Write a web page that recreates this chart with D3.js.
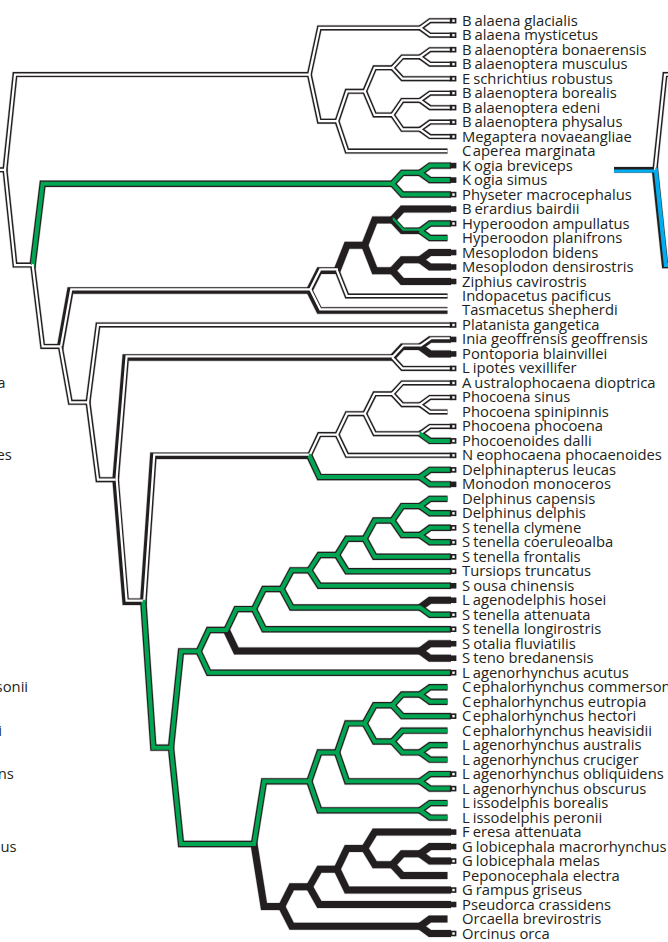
<!DOCTYPE html>
<html><head><meta charset="utf-8">
<script src="https://cdn.jsdelivr.net/npm/d3@7"></script>
<style>html,body{margin:0;padding:0;background:#fff;overflow:hidden}</style>
</head><body>
<svg id="chart" width="668" height="942"></svg>
<script>
// ---------- DATA ----------
const species = [
  "Balaena glacialis","Balaena mysticetus","Balaenoptera bonaerensis","Balaenoptera musculus",
  "Eschrichtius robustus","Balaenoptera borealis","Balaenoptera edeni","Balaenoptera physalus",
  "Megaptera novaeangliae","Caperea marginata","Kogia breviceps","Kogia simus",
  "Physeter macrocephalus","Berardius bairdii","Hyperoodon ampullatus","Hyperoodon planifrons",
  "Mesoplodon bidens","Mesoplodon densirostris","Ziphius cavirostris","Indopacetus pacificus",
  "Tasmacetus shepherdi","Platanista gangetica","Inia geoffrensis geoffrensis","Pontoporia blainvillei",
  "Lipotes vexillifer","Australophocaena dioptrica","Phocoena sinus","Phocoena spinipinnis",
  "Phocoena phocoena","Phocoenoides dalli","Neophocaena phocaenoides","Delphinapterus leucas",
  "Monodon monoceros","Delphinus capensis","Delphinus delphis","Stenella clymene",
  "Stenella coeruleoalba","Stenella frontalis","Tursiops truncatus","Sousa chinensis",
  "Lagenodelphis hosei","Stenella attenuata","Stenella longirostris","Sotalia fluviatilis",
  "Steno bredanensis","Lagenorhynchus acutus","Cephalorhynchus commersonii","Cephalorhynchus eutropia",
  "Cephalorhynchus hectori","Cephalorhynchus heavisidii","Lagenorhynchus australis","Lagenorhynchus cruciger",
  "Lagenorhynchus obliquidens","Lagenorhynchus obscurus","Lissodelphis borealis","Lissodelphis peronii",
  "Feresa attenuata","Globicephala macrorhynchus","Globicephala melas","Peponocephala electra",
  "Grampus griseus","Pseudorca crassidens","Orcaella brevirostris","Orcinus orca"
];
// tip marker: o = open square, f = filled square, '' = none
const markers = [
  "o","o","o","o","o","o","o","o","o","",
  "f","f","o","f","o","","f","f","f","","",
  "o","f","f","o","o","o","","o","o","o","o","f",
  "","o","o","o","o","o","f","f","o","o","f","f","o",
  "","","o","","","","o","o","","",
  "f","f","o","","o","f","","o"
];
// clades (leaf index : character state of the branch leading to it)
// w = white, g = green, b = black, wb / gb = polymorphic
const cladeMysticeti   = "((0:w,1:w):w,((((2:w,3:w):w,4:w):w,((5:w,6:w):w,(7:w,8:w):w):w):w,9:w):w):w";
const cladePhyseteroid = "((10:g,11:g):g,12:g):g";
const cladeZiphiidae   = "((((13:b,(14:g,15:g):gb):b,((16:b,17:b):b,18:b):b):b,19:w):wb,20:wb):wb";
const cladeIniidae     = "((22:wb,23:b):wb,24:w):wb";
const cladePhocMonod   = "((((25:w,(26:w,27:w):w):w,(28:w,29:g):w):w,30:w):w,(31:g,32:g):g):wb";
const cladeDelphininae = "(((((((((33:g,34:g):g,(35:g,36:g):g):g,37:g):g,38:g):g,39:g):g,(40:b,41:g):g):g,42:g):g,(43:b,44:b):b):g,45:g):g";
const cladeLissodelph  = "(((((46:g,47:g):g,48:g):g,(49:g,(50:g,51:g):g):g):g,(52:g,53:g):g):g,(54:g,55:g):g):g";
const cladeGlobiceph   = "((((56:b,((57:b,58:b):b,59:b):b):b,60:b):b,61:b):b,(62:b,63:b):b):b";
const rootState = "w";
// adjacent panel (right) shares the topology; states of its root branches
const rightPanelRootStates = ["kb","w","u"]; // stem, Mysticeti, Odontoceti

const newick =
  "(" + cladeMysticeti + ",(" + cladePhyseteroid + ",(" + cladeZiphiidae + ",(21:w,(" +
  cladeIniidae + ",(" + cladePhocMonod + ",(" + cladeDelphininae + ",(" + cladeLissodelph + "," +
  cladeGlobiceph + "):g):g):wb):w):w):w):w):" + rootState;

// ---------- PARSE ----------
function parseNewick(s){
  let i = 0;
  function node(){
    const n = {children: []};
    if (s[i] === "("){
      i++; n.children.push(node());
      while (s[i] === ","){ i++; n.children.push(node()); }
      i++;
    } else {
      let t = ""; while (/[0-9]/.test(s[i])) t += s[i++]; n.leaf = +t;
    }
    if (s[i] === ":"){ i++; let t = ""; while (i < s.length && /[a-z]/.test(s[i])) t += s[i++]; n.state = t; }
    return n;
  }
  return node();
}
const tree = parseNewick(newick);

// ---------- LAYOUT ----------
const svg = d3.select("#chart");
const DARK = "#231f20", GREEN = "#00a651", BLUE = "#00aeef";
const PANEL = 650;
const yScale = d3.scaleLinear().domain([0, species.length - 1]).range([20.7, 933.5]);
const xScale = d3.scaleLinear().domain([0, 16]).range([447.7, 5]);
const DIAG = 10;

function layout(n, parent){
  n.parent = parent;
  if (n.children.length){
    n.children.forEach(c => layout(c, n));
    n.h = 1 + d3.max(n.children, c => c.h);
    n.y = d3.mean(n.children, c => c.y);
  } else { n.h = 0; n.y = yScale(n.leaf); }
  n.x = xScale(n.h);
}
layout(tree, null);
const nodes = [];
(function walk(n, depth){ n.depth = depth; nodes.push(n); n.children.forEach(c => walk(c, depth + 1)); })(tree, 0);

function edgePoints(n, off){
  if (!n.parent) return [[n.x - 41 + off, n.y], [n.x + off, n.y]];
  const p = n.parent;
  let xe = n.x;
  if (!n.children.length) xe = markers[n.leaf] ? 451 : 447.5;
  return [[p.x - 0.6 + off, p.y], [p.x + off, p.y], [p.x + DIAG + off, n.y], [xe + off, n.y]];
}
const line = d3.line();
const styles = {
  w:  {outer: 5,   inner: 2.2, color: "#fff", dx: 0,   dy: 0},
  g:  {outer: 6.4, inner: 4.0, color: GREEN,  dx: 0,   dy: 0},
  b:  {outer: 7,   inner: 0,   color: DARK,   dx: 0,   dy: 0},
  wb: {outer: 6.6, inner: 2.2, color: "#fff", dx: 0.9, dy: -1.2},
  gb: {outer: 6.6, inner: 2.4, color: GREEN,  dx: 0.9, dy: -1.2},
  u:  {outer: 6.4, inner: 4.0, color: BLUE,   dx: 0.8, dy: 0},
  kb: {outer: 5.6, inner: 3.0, color: BLUE,   dx: 0,   dy: 1.1}
};

const edges = nodes.map(n => ({pts: edgePoints(n, 0), st: styles[n.state]}));
// right panel: only the root branches fall inside the frame
nodes.filter(n => n.depth <= 1).forEach(n => {
  const st = n.depth === 0 ? rightPanelRootStates[0] : rightPanelRootStates[1 + tree.children.indexOf(n)];
  edges.push({pts: edgePoints(n, PANEL), st: styles[st]});
});

const gTree = svg.append("g").attr("fill", "none").attr("stroke-linejoin", "miter").attr("stroke-miterlimit", 6);
gTree.selectAll("path.halo").data(edges).join("path").attr("class", "halo")
  .attr("d", d => line(d.pts)).attr("stroke", "#aaa").attr("stroke-opacity", 0.55)
  .attr("stroke-width", d => d.st.outer + 1.2);
gTree.selectAll("path.outer").data(edges).join("path").attr("class", "outer")
  .attr("d", d => line(d.pts)).attr("stroke", DARK).attr("stroke-width", d => d.st.outer);
gTree.selectAll("path.inner").data(edges.filter(d => d.st.inner > 0)).join("path").attr("class", "inner")
  .attr("d", d => line(d.pts)).attr("stroke", d => d.st.color).attr("stroke-width", d => d.st.inner)
  .attr("transform", d => `translate(${d.st.dx},${d.st.dy})`);

// tip markers
const leaves = nodes.filter(n => !n.children.length);
const mk = svg.append("g");
mk.selectAll("rect.m").data(leaves.filter(n => markers[n.leaf])).join("rect").attr("class", "m")
  .attr("x", 449.8).attr("y", d => d.y - 2.8).attr("width", 6.6).attr("height", 5.6).attr("fill", DARK);
mk.selectAll("rect.h").data(leaves.filter(n => markers[n.leaf] === "o")).join("rect").attr("class", "h")
  .attr("x", 452.3).attr("y", d => d.y - 1.2).attr("width", 2.4).attr("height", 2.4).attr("fill", "#fff");

// labels (this panel and the neighbouring left panel, whose label ends reach into the frame)
const gapLetters = {B: 3, E: 3, K: 3, L: 3, A: 3, N: 3, S: 3, F: 3, G: 3, C: 1.5};
function addLabels(off){
  const t = svg.append("g").attr("font-family", "'Open Sans', 'Noto Sans', sans-serif").attr("font-size", 14.8)
    .attr("fill", DARK)
    .selectAll("text").data(leaves).join("text")
    .attr("x", 462 + off).attr("y", d => d.y + 5);
  t.each(function(d){
    const name = species[d.leaf], gap = gapLetters[name[0]] || 0, el = d3.select(this);
    if (gap){
      el.append("tspan").text(name[0]);
      el.append("tspan").attr("dx", gap).text(name.slice(1));
    } else el.text(name);
  });
  return t;
}
addLabels(0);
addLabels(-PANEL).filter(function(){ const b = this.getBBox(); return b.x + b.width < 1; }).remove();
</script>
</body></html>
